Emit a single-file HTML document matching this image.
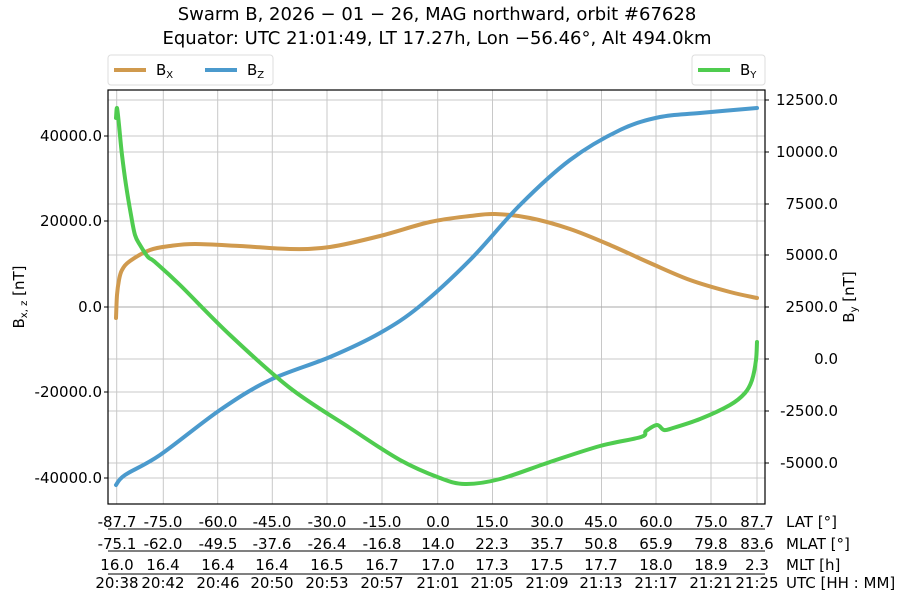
<!DOCTYPE html>
<html><head><meta charset="utf-8"><style>
body{margin:0;background:#fff;}
svg{font-family:"DejaVu Sans","Liberation Sans",sans-serif;}
</style></head><body>
<svg id="s" width="900" height="600" viewBox="0 0 900 600" xmlns="http://www.w3.org/2000/svg">
<rect width="900" height="600" fill="#fff"/>
<text x="437" y="20" font-size="18" text-anchor="middle">Swarm B, 2026 − 01 − 26, MAG northward, orbit #67628</text>
<text x="437" y="44" font-size="18" text-anchor="middle">Equator: UTC 21:01:49, LT 17.27h, Lon −56.46°, Alt 494.0km</text>
<g stroke="#c8c8c8" stroke-width="1">
<line x1="108" x2="765" y1="136" y2="136"/><line x1="108" x2="765" y1="221" y2="221"/><line x1="108" x2="765" y1="307" y2="307"/><line x1="108" x2="765" y1="392" y2="392"/><line x1="108" x2="765" y1="478" y2="478"/>
<line x1="108" x2="765" y1="100" y2="100"/><line x1="108" x2="765" y1="152" y2="152"/><line x1="108" x2="765" y1="204" y2="204"/><line x1="108" x2="765" y1="255" y2="255"/><line x1="108" x2="765" y1="359" y2="359"/><line x1="108" x2="765" y1="411" y2="411"/><line x1="108" x2="765" y1="463" y2="463"/>
<line y1="90" y2="504" x1="116.7" x2="116.7"/><line y1="90" y2="504" x1="163.3" x2="163.3"/><line y1="90" y2="504" x1="217.7" x2="217.7"/><line y1="90" y2="504" x1="272.3" x2="272.3"/><line y1="90" y2="504" x1="327" x2="327"/><line y1="90" y2="504" x1="382" x2="382"/><line y1="90" y2="504" x1="437.7" x2="437.7"/><line y1="90" y2="504" x1="492.5" x2="492.5"/><line y1="90" y2="504" x1="547" x2="547"/><line y1="90" y2="504" x1="601.5" x2="601.5"/><line y1="90" y2="504" x1="656" x2="656"/><line y1="90" y2="504" x1="711" x2="711"/><line y1="90" y2="504" x1="757" x2="757"/>
</g>
<line x1="108" x2="765" y1="307" y2="307" stroke="#aaa"/>
<g fill="none" stroke-width="4" stroke-linejoin="round" stroke-linecap="round">
<path id="bx" stroke="#d09a4e" data-p="116,318 117,295 119,280 122,270 130,261 150,250 170,246 195,244 240,246 290,249 330,247 380,236 430,222 470,216 495,214 530,218 570,229 610,245 650,263 690,280 730,292 757,298"/>
<path id="bz" stroke="#4b9acd" data-p="116,485 125,475 160,455 220,410 270,380 330,357 380,333 420,306 470,260 520,205 570,160 620,130 660,117 700,113 757,108"/>
<path id="by" stroke="#4fcc4f" data-p="116,118 117,108 119,125 122,155 126,185 131,215 135,235 140,245 148,257 155,262 180,285 230,335 290,388 350,428 400,460 440,478 465,484 500,479 550,462 600,446 641,437 646,431 657,425 664,430 673,428 700,419 730,405 745,393 752,380 756,360 757,342"/>
</g>
<rect x="108" y="90" width="657" height="414" fill="none" stroke="#000" stroke-width="1.2"/>
<g font-size="15" text-anchor="end">
<text x="102" y="141">40000.0</text><text x="102" y="226">20000.0</text><text x="102" y="312">0.0</text><text x="102" y="397">-20000.0</text><text x="102" y="483">-40000.0</text>
</g>
<g stroke="#000"><line x1="104" x2="108" y1="136" y2="136"/><line x1="104" x2="108" y1="221" y2="221"/><line x1="104" x2="108" y1="307" y2="307"/><line x1="104" x2="108" y1="392" y2="392"/><line x1="104" x2="108" y1="478" y2="478"/>
<line x1="765" x2="769" y1="100" y2="100"/><line x1="765" x2="769" y1="152" y2="152"/><line x1="765" x2="769" y1="204" y2="204"/><line x1="765" x2="769" y1="255" y2="255"/><line x1="765" x2="769" y1="307" y2="307"/><line x1="765" x2="769" y1="359" y2="359"/><line x1="765" x2="769" y1="411" y2="411"/><line x1="765" x2="769" y1="463" y2="463"/></g>
<g font-size="15" text-anchor="end">
<text x="838" y="105">12500.0</text><text x="838" y="157">10000.0</text><text x="838" y="209">7500.0</text><text x="838" y="260">5000.0</text><text x="838" y="312">2500.0</text><text x="838" y="364">0.0</text><text x="838" y="416">-2500.0</text><text x="838" y="468">-5000.0</text>
</g>
<text transform="translate(24,297) rotate(-90)" font-size="15" text-anchor="middle">B<tspan font-size="10" dy="3">x, z</tspan><tspan dy="-3"> [nT]</tspan></text>
<text transform="translate(854,297) rotate(-90)" font-size="15" text-anchor="middle">B<tspan font-size="10" dy="3">y</tspan><tspan dy="-3"> [nT]</tspan></text>
<rect x="108" y="55" width="165" height="30" rx="3" fill="#fff" stroke="#ddd"/>
<line x1="114" x2="146" y1="70" y2="70" stroke="#d09a4e" stroke-width="4"/>
<text x="156" y="75" font-size="15">B<tspan font-size="10" dy="3">X</tspan></text>
<line x1="205" x2="237" y1="70" y2="70" stroke="#4b9acd" stroke-width="4"/>
<text x="247" y="75" font-size="15">B<tspan font-size="10" dy="3">Z</tspan></text>
<rect x="692" y="55" width="73" height="30" rx="3" fill="#fff" stroke="#ddd"/>
<line x1="698" x2="730" y1="70" y2="70" stroke="#4fcc4f" stroke-width="4"/>
<text x="740" y="75" font-size="15">B<tspan font-size="10" dy="3">Y</tspan></text>
<g stroke="#000"><line x1="108" x2="765" y1="529" y2="529"/><line x1="108" x2="765" y1="551" y2="551"/><line x1="108" x2="765" y1="574" y2="574"/></g>
<g font-size="15" text-anchor="middle">
<text y="527"><tspan x="117">-87.7</tspan><tspan x="163">-75.0</tspan><tspan x="218">-60.0</tspan><tspan x="272">-45.0</tspan><tspan x="327">-30.0</tspan><tspan x="382">-15.0</tspan><tspan x="438">0.0</tspan><tspan x="492">15.0</tspan><tspan x="547">30.0</tspan><tspan x="601">45.0</tspan><tspan x="656">60.0</tspan><tspan x="711">75.0</tspan><tspan x="757">87.7</tspan></text>
<text y="549"><tspan x="117">-75.1</tspan><tspan x="163">-62.0</tspan><tspan x="218">-49.5</tspan><tspan x="272">-37.6</tspan><tspan x="327">-26.4</tspan><tspan x="382">-16.8</tspan><tspan x="438">14.0</tspan><tspan x="492">22.3</tspan><tspan x="547">35.7</tspan><tspan x="601">50.8</tspan><tspan x="656">65.9</tspan><tspan x="711">79.8</tspan><tspan x="757">83.6</tspan></text>
<text y="570"><tspan x="117">16.0</tspan><tspan x="163">16.4</tspan><tspan x="218">16.4</tspan><tspan x="272">16.4</tspan><tspan x="327">16.5</tspan><tspan x="382">16.7</tspan><tspan x="438">17.0</tspan><tspan x="492">17.3</tspan><tspan x="547">17.5</tspan><tspan x="601">17.7</tspan><tspan x="656">18.0</tspan><tspan x="711">18.9</tspan><tspan x="757">2.3</tspan></text>
<text y="588"><tspan x="117">20:38</tspan><tspan x="163">20:42</tspan><tspan x="218">20:46</tspan><tspan x="272">20:50</tspan><tspan x="327">20:53</tspan><tspan x="382">20:57</tspan><tspan x="438">21:01</tspan><tspan x="492">21:05</tspan><tspan x="547">21:09</tspan><tspan x="601">21:13</tspan><tspan x="656">21:17</tspan><tspan x="711">21:21</tspan><tspan x="757">21:25</tspan></text>
</g>
<g font-size="15">
<text x="786" y="527">LAT [°]</text><text x="786" y="549">MLAT [°]</text><text x="786" y="570">MLT [h]</text><text x="786" y="588">UTC [HH : MM]</text>
</g>
</svg>
<script>
["bx","bz","by"].forEach(function(id){
  var el=document.getElementById(id);
  var p=el.getAttribute("data-p").split(" ").map(function(s){return s.split(",").map(Number);});
  var d="M"+p[0][0]+","+p[0][1];
  for(var i=0;i<p.length-1;i++){
    var p0=p[i>0?i-1:i],p1=p[i],p2=p[i+1],p3=p[i+2<p.length?i+2:i+1];
    var c1x=p1[0]+(p2[0]-p0[0])/6,c1y=p1[1]+(p2[1]-p0[1])/6;
    var c2x=p2[0]-(p3[0]-p1[0])/6,c2y=p2[1]-(p3[1]-p1[1])/6;
    d+=" C"+c1x.toFixed(1)+","+c1y.toFixed(1)+" "+c2x.toFixed(1)+","+c2y.toFixed(1)+" "+p2[0]+","+p2[1];
  }
  el.setAttribute("d",d);
});
</script>
</body></html>
